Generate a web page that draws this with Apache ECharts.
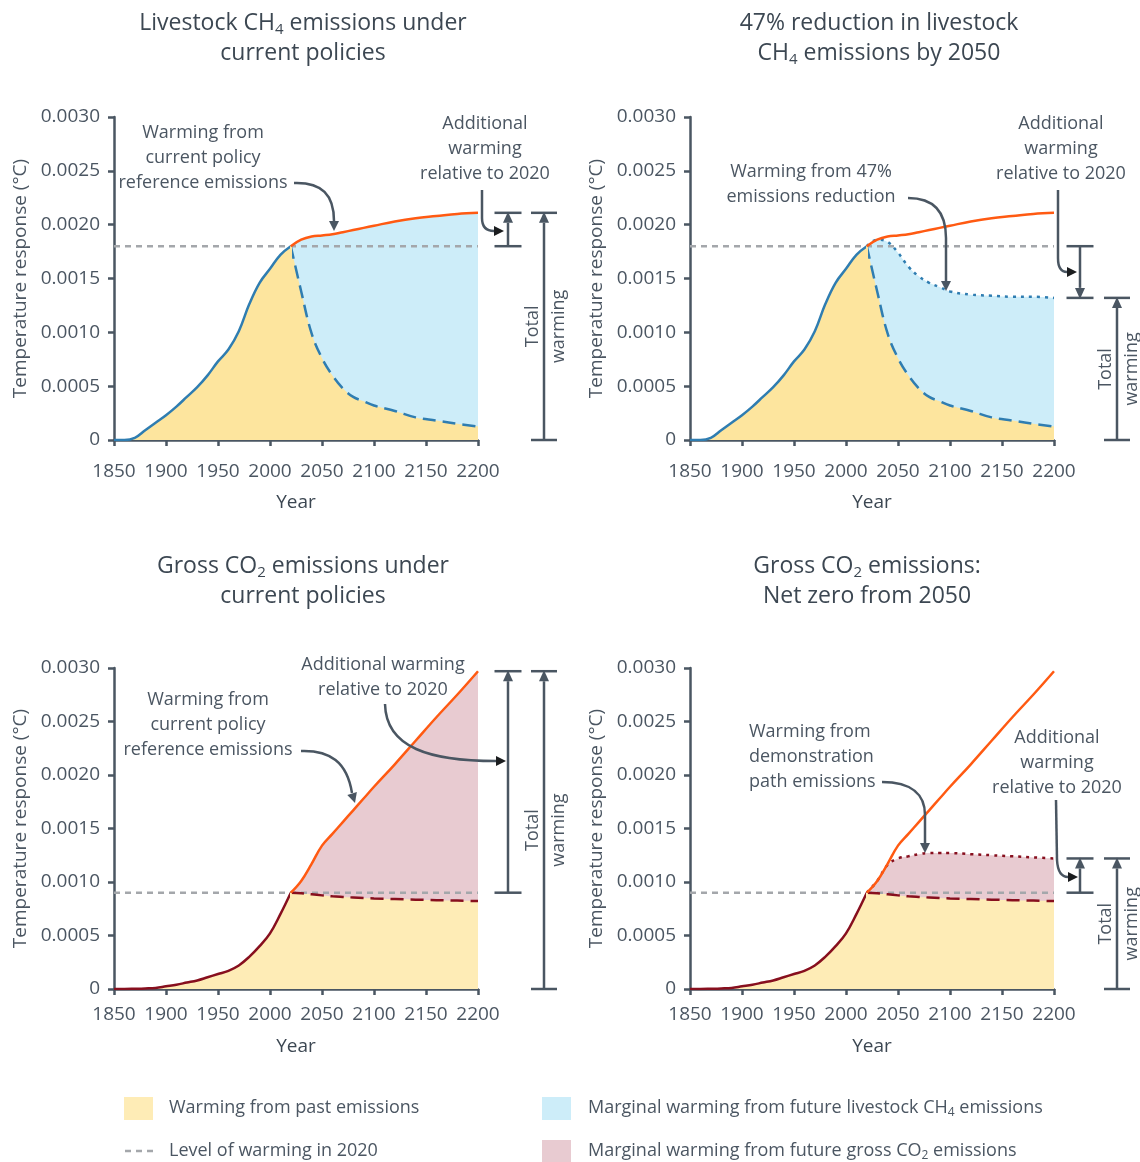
<!DOCTYPE html>
<html>
<head>
<meta charset="utf-8">
<script src="https://cdn.jsdelivr.net/npm/echarts@6/dist/echarts.min.js"></script>
<style>
  html, body { margin: 0; padding: 0; background: #ffffff; }
  #chart { width: 1140px; height: 1162px; }
</style>
</head>
<body>
<div id="chart"></div>
<script>
// ---- Sample years -------------------------------------------------------
const pastYears = [1850, 1860, 1870, 1880, 1890, 1900, 1910, 1920, 1930, 1940,
                   1950, 1960, 1970, 1980, 1990, 2000, 2010, 2020];
const futureYears = [2020, 2030, 2040, 2050, 2060, 2070, 2080, 2090, 2100,
                     2120, 2140, 2160, 2180, 2200];

// ---- Livestock CH4 temperature response (°C) -----------------------------
const ch4Past = [0, 0, 0.00002, 0.00009, 0.00016, 0.00023, 0.00031, 0.0004, 0.00049, 0.0006,
                 0.00073, 0.00084, 0.00101, 0.00126, 0.00146, 0.00159, 0.00172, 0.0018];
const ch4PastDecay = [0.0018, 0.00138, 0.00099, 0.00076, 0.0006, 0.00048, 0.0004, 0.00036, 0.00032,
                      0.00027, 0.00021, 0.00018, 0.00015, 0.000125];
const ch4CurrentPolicy = [0.0018, 0.00186, 0.00189, 0.0019, 0.00191, 0.00193, 0.00195, 0.00197, 0.00199,
                          0.00203, 0.00206, 0.00208, 0.0021, 0.00211];
const ch4Reduction47 = [0.0018, 0.00186, 0.00184, 0.00174, 0.00161, 0.00152, 0.00146, 0.00142, 0.00138,
                        0.00135, 0.00134, 0.00133, 0.00133, 0.00132];

// ---- Gross CO2 temperature response (°C) ---------------------------------
const co2Past = [0, 0, 0.000002, 0.000005, 0.00001, 0.000025, 0.00004, 0.00006, 0.00008, 0.00011,
                 0.00014, 0.00017, 0.00022, 0.0003, 0.0004, 0.00052, 0.0007, 0.0009];
const co2PastDecay = [0.0009, 0.000895, 0.000885, 0.000875, 0.000866, 0.00086, 0.000855, 0.00085, 0.000846,
                      0.00084, 0.000835, 0.00083, 0.000826, 0.000822];
const co2CurrentPolicy = [0.0009, 0.00101, 0.00117, 0.00134, 0.00145, 0.00156, 0.00167, 0.00178, 0.00189,
                          0.0021, 0.00232, 0.00254, 0.00275, 0.00297];
const co2NetZero = [0.0009, 0.00101, 0.00116, 0.00122, 0.00124, 0.00126, 0.00127, 0.00127, 0.00127,
                    0.00126, 0.00125, 0.00124, 0.00123, 0.00122];

// ---- Axis ticks ----------------------------------------------------------
const yearTicks = { min: 1850, max: 2200, step: 50 };
const tempTicks = { min: 0, max: 0.003, step: 0.0005 };

// ---- Styling -------------------------------------------------------------
const FONT = '"Open Sans", "Noto Sans", sans-serif';
const TEXT = '#4b5662';
const TITLE = '#3c4752';
const AXIS = '#4a5662';
const ARROW = '#4a5662';
const BLACK = '#1b1d1f';
const C = {
  orange: '#ff5a12', blueLine: '#2f7db1', redLine: '#870f1e', level: '#a4a7ab',
  yellowCH4: '#fde59e', yellowCO2: '#feecb6', blueFill: '#cdedf9', pinkFill: '#e8cbd1'
};

const pairs = (xs, ys) => xs.map((x, i) => [x, ys[i]]);
const last = a => a[a.length - 1];

const panels = [
  { grid: { left: 114, top: 117, width: 364, height: 323 }, past: ch4Past, decay: ch4PastDecay,
    policy: ch4CurrentPolicy, scenario: null, pastLine: C.blueLine, pastFill: C.yellowCH4,
    futureFill: C.blueFill, bracketX: [30, 66] },
  { grid: { left: 690, top: 117, width: 364, height: 323 }, past: ch4Past, decay: ch4PastDecay,
    policy: ch4CurrentPolicy, scenario: ch4Reduction47, pastLine: C.blueLine, pastFill: C.yellowCH4,
    futureFill: C.blueFill, bracketX: [26, 63] },
  { grid: { left: 114, top: 668, width: 364, height: 321 }, past: co2Past, decay: co2PastDecay,
    policy: co2CurrentPolicy, scenario: null, pastLine: C.redLine, pastFill: C.yellowCO2,
    futureFill: C.pinkFill, bracketX: [30, 66] },
  { grid: { left: 690, top: 668, width: 364, height: 321 }, past: co2Past, decay: co2PastDecay,
    policy: co2CurrentPolicy, scenario: co2NetZero, pastLine: C.redLine, pastFill: C.yellowCO2,
    futureFill: C.pinkFill, bracketX: [26, 63] }
];

const grids = [], xAxes = [], yAxes = [], series = [];
panels.forEach((p, i) => {
  grids.push(Object.assign({ containLabel: false }, p.grid));
  const top = i < 2;
  xAxes.push({
    type: 'value', gridIndex: i, min: yearTicks.min, max: yearTicks.max, interval: yearTicks.step,
    name: 'Year', nameLocation: 'middle', nameGap: top ? 53 : 48,
    nameTextStyle: { fontFamily: FONT, fontSize: 19, color: TITLE, fontWeight: 500 },
    axisLine: { show: true, onZero: false, lineStyle: { color: AXIS, width: 2.5 } },
    axisTick: { show: true, length: 6, lineStyle: { color: AXIS, width: 2.5 } },
    axisLabel: { fontFamily: FONT, fontSize: 19, color: TEXT, margin: top ? 22 : 16,
      formatter: v => String(v) },
    splitLine: { show: false }
  });
  yAxes.push({
    type: 'value', gridIndex: i, min: tempTicks.min, max: tempTicks.max, interval: tempTicks.step,
    name: 'Temperature response (°C)', nameLocation: 'middle', nameGap: 84, nameRotate: 90,
    nameTextStyle: { fontFamily: FONT, fontSize: 19, color: TEXT },
    axisLine: { show: true, lineStyle: { color: AXIS, width: 2.5 } },
    axisTick: { show: true, length: 6, lineStyle: { color: AXIS, width: 2.5 } },
    axisLabel: { fontFamily: FONT, fontSize: 19, color: TEXT, margin: 14,
      formatter: v => (v === 0 ? '0' : v.toFixed(4)) },
    splitLine: { show: false }
  });

  const base = { type: 'line', xAxisIndex: i, yAxisIndex: i, showSymbol: false, symbol: 'none',
                 smooth: 0.4, silent: true, animation: false };
  const upper = p.scenario || p.policy;
  const level = last(p.past);
  const noLine = { width: 0, opacity: 0 };

  // Marginal warming band: filled under the future path, later covered by past-emission fill
  series.push(Object.assign({}, base, { z: 1, data: pairs(futureYears, upper),
    lineStyle: noLine, areaStyle: { color: p.futureFill, opacity: 1 } }));
  // Warming from past emissions (the vertical mark closes the join at 2020)
  series.push(Object.assign({}, base, { z: 2, data: pairs(pastYears, p.past),
    lineStyle: noLine, areaStyle: { color: p.pastFill, opacity: 1 },
    markLine: { silent: true, symbol: 'none', animation: false, label: { show: false },
      lineStyle: { color: p.pastFill, width: 2, type: 'solid' },
      data: [[{ coord: [last(pastYears), 0] }, { coord: [last(pastYears), level] }]] } }));
  series.push(Object.assign({}, base, { z: 2, data: pairs(futureYears, p.decay),
    lineStyle: noLine, areaStyle: { color: p.pastFill, opacity: 1 } }));
  // Level of warming in 2020
  series.push(Object.assign({}, base, { z: 3, smooth: false,
    data: [[yearTicks.min, level], [yearTicks.max, level]],
    lineStyle: { color: C.level, width: 2.5, type: [6, 5] } }));
  // Curves
  series.push(Object.assign({}, base, { z: 4, data: pairs(pastYears, p.past),
    lineStyle: { color: p.pastLine, width: 2.5 } }));
  series.push(Object.assign({}, base, { z: 4, data: pairs(futureYears, p.decay),
    lineStyle: { color: p.pastLine, width: 2.5, type: [13, 7] } }));
  if (p.scenario) {
    series.push(Object.assign({}, base, { z: 4, data: pairs(futureYears, p.scenario),
      lineStyle: { color: p.pastLine, width: 2.5, type: [3, 5] } }));
  }
  series.push(Object.assign({}, base, { z: 5, data: pairs(futureYears, p.policy),
    lineStyle: { color: C.orange, width: 2.5 } }));
});

const chart = echarts.init(document.getElementById('chart'), null, { renderer: 'canvas' });
chart.setOption({
  backgroundColor: '#ffffff',
  animation: false,
  grid: grids, xAxis: xAxes, yAxis: yAxes, series: series
});

// ---- Annotations ---------------------------------------------------------
function textEl(text, x, y, align, size) {
  return {
    type: 'text', x: x, y: y, silent: true, z: 20,
    style: { text: text, font: size + 'px ' + FONT, fill: TEXT,
      align: align, verticalAlign: 'top', textAlign: align, textVerticalAlign: 'top', lineHeight: 25 }
  };
}

function richTitle(lines, cx, y) {
  const txt = lines.map(l => l.map(t => (t[1] ? '{s|' : '{t|') + t[0] + '}').join('')).join('\n');
  return { type: 'text', x: cx, y: y, silent: true, z: 20,
    style: { text: txt, align: 'center', verticalAlign: 'top', textAlign: 'center', textVerticalAlign: 'top',
      rich: {
        t: { fontSize: 23, fontFamily: FONT, fontWeight: 500, fill: TITLE, color: TITLE, lineHeight: 30 },
        s: { fontSize: 15, fontFamily: FONT, fontWeight: 500, fill: TITLE, color: TITLE, lineHeight: 15,
             verticalAlign: 'bottom', padding: [0, 0, 1, 0] }
      } } };
}

function head(tip, angleDeg, color, len, half) {
  const a = angleDeg * Math.PI / 180, ux = Math.cos(a), uy = Math.sin(a);
  const bx = tip[0] - ux * len, by = tip[1] - uy * len;
  return { type: 'polygon', silent: true, z: 21,
    shape: { points: [tip, [bx - uy * half, by + ux * half], [bx + uy * half, by - ux * half]] },
    style: { fill: color } };
}

// segs: ['L', x1, y1, x2, y2] | ['Q', x1, y1, cx, cy, x2, y2] | ['C', x1, y1, c1x, c1y, c2x, c2y, x2, y2]
function arrow(segs, tip, angleDeg, headColor) {
  const st = { stroke: ARROW, lineWidth: 2.5, fill: null };
  const out = segs.map(s => {
    if (s[0] === 'L') {
      return { type: 'line', silent: true, z: 21, shape: { x1: s[1], y1: s[2], x2: s[3], y2: s[4] }, style: st };
    }
    if (s[0] === 'Q') {
      return { type: 'bezierCurve', silent: true, z: 21,
        shape: { x1: s[1], y1: s[2], cpx1: s[3], cpy1: s[4], x2: s[5], y2: s[6] }, style: st };
    }
    return { type: 'bezierCurve', silent: true, z: 21,
      shape: { x1: s[1], y1: s[2], cpx1: s[3], cpy1: s[4], cpx2: s[5], cpy2: s[6], x2: s[7], y2: s[8] }, style: st };
  });
  out.push(head(tip, angleDeg, headColor, 10, 5));
  return out;
}

function bracket(gi, x, from, to, capHalf) {
  const yFrom = chart.convertToPixel({ gridIndex: gi }, [yearTicks.max, from])[1];
  const yTo = chart.convertToPixel({ gridIndex: gi }, [yearTicks.max, to])[1];
  const dir = yTo < yFrom ? -1 : 1;
  const hl = 10, hw = 5;
  const st = { stroke: AXIS, lineWidth: 2.5 };
  return [
    { type: 'line', silent: true, z: 21, shape: { x1: x - capHalf, y1: yFrom, x2: x + capHalf, y2: yFrom }, style: st },
    { type: 'line', silent: true, z: 21, shape: { x1: x - capHalf, y1: yTo, x2: x + capHalf, y2: yTo }, style: st },
    { type: 'line', silent: true, z: 21, shape: { x1: x, y1: yFrom, x2: x, y2: yTo - dir * hl }, style: st },
    { type: 'polygon', silent: true, z: 21,
      shape: { points: [[x, yTo + dir * 1], [x - hw, yTo - dir * hl], [x + hw, yTo - dir * hl]] },
      style: { fill: AXIS } }
  ];
}

const g = [];
// Titles
g.push(richTitle([[['Livestock CH'], ['4', 1], [' emissions under']], [['current policies']]], 303, 8));
g.push(richTitle([[['47% reduction in livestock']], [['CH'], ['4', 1], [' emissions by 2050']]], 879, 8));
g.push(richTitle([[['Gross CO'], ['2', 1], [' emissions under']], [['current policies']]], 303, 551));
g.push(richTitle([[['Gross CO'], ['2', 1], [' emissions:']], [['Net zero from 2050']]], 867, 551));

// Brackets: additional warming relative to 2020, and total warming
panels.forEach((p, i) => {
  const right = chart.convertToPixel({ gridIndex: i }, [yearTicks.max, 0])[0];
  const endVal = last(p.scenario || p.policy);
  const level = last(p.past);
  const xa = right + p.bracketX[0], xt = right + p.bracketX[1];
  bracket(i, xa, level, endVal, 13.5).forEach(e => g.push(e));
  bracket(i, xt, 0, endVal, 13).forEach(e => g.push(e));
  const yMid = (chart.convertToPixel({ gridIndex: i }, [yearTicks.max, 0])[1] +
                chart.convertToPixel({ gridIndex: i }, [yearTicks.max, endVal])[1]) / 2;
  g.push({ type: 'text', x: xt - 11.5, y: yMid, rotation: Math.PI / 2, silent: true, z: 20,
    style: { text: 'Total', font: '18px ' + FONT, fill: TEXT, align: 'center', verticalAlign: 'middle',
      textAlign: 'center', textVerticalAlign: 'middle' } });
  g.push({ type: 'text', x: xt + 15, y: yMid, rotation: Math.PI / 2, silent: true, z: 20,
    style: { text: 'warming', font: '18px ' + FONT, fill: TEXT, align: 'center', verticalAlign: 'middle',
      textAlign: 'center', textVerticalAlign: 'middle' } });
});

// Callout labels
g.push(textEl('Warming from\ncurrent policy\nreference emissions', 203, 120, 'center', 18));
g.push(textEl('Additional\nwarming\nrelative to 2020', 485, 111, 'center', 18));
g.push(textEl('Warming from 47%\nemissions reduction', 811, 159, 'center', 18));
g.push(textEl('Additional\nwarming\nrelative to 2020', 1061, 111, 'center', 18));
g.push(textEl('Warming from\ncurrent policy\nreference emissions', 208, 687, 'center', 18));
g.push(textEl('Additional warming\nrelative to 2020', 383, 652, 'center', 18));
g.push(textEl('Warming from\ndemonstration\npath emissions', 749, 719, 'left', 18));
g.push(textEl('Additional\nwarming\nrelative to 2020', 1057, 725, 'center', 18));

// Callout arrows
[
  arrow([['C', 294, 183, 322, 182, 334, 195, 334, 221]], [334, 231], 90, ARROW),
  arrow([['L', 482, 190, 482, 218], ['Q', 482, 218, 482, 231, 494, 231]], [504, 231], 0, BLACK),
  arrow([['C', 908, 198, 936, 198, 946, 214, 946, 238], ['L', 946, 238, 946, 281]], [946, 291], 90, ARROW),
  arrow([['L', 1058, 190, 1058, 258], ['Q', 1058, 258, 1058, 272, 1067, 272]], [1077, 272], 0, BLACK),
  arrow([['C', 301, 751, 330, 750, 347, 762, 352, 793]], [355, 803], 73, ARROW),
  arrow([['C', 385, 704, 386, 748, 430, 761, 496, 761]], [506, 761], 0, BLACK),
  arrow([['C', 882, 782, 912, 782, 925, 795, 925, 815], ['L', 925, 815, 925, 843]], [925, 853], 90, ARROW),
  arrow([['L', 1056, 800, 1057, 860], ['Q', 1057, 860, 1058, 877, 1068, 877]], [1078, 877], 0, BLACK)
].forEach(a => a.forEach(e => g.push(e)));

// Legend
const legendRich = {
  t: { fontSize: 18, fontFamily: FONT, fill: TEXT, color: TEXT, lineHeight: 24 },
  s: { fontSize: 12, fontFamily: FONT, fill: TEXT, color: TEXT, lineHeight: 12, verticalAlign: 'bottom', padding: [0, 0, 1, 0] }
};
function legendText(tokens, x, y) {
  const txt = tokens.map(t => (t[1] ? '{s|' : '{t|') + t[0] + '}').join('');
  return { type: 'text', x: x, y: y, silent: true, z: 20,
    style: { text: txt, rich: legendRich, align: 'left', verticalAlign: 'middle',
      textAlign: 'left', textVerticalAlign: 'middle' } };
}
g.push({ type: 'rect', silent: true, shape: { x: 124, y: 1097, width: 29, height: 23 }, style: { fill: C.yellowCO2 } });
g.push(legendText([['Warming from past emissions']], 169, 1108));
g.push({ type: 'line', silent: true, shape: { x1: 125, y1: 1151, x2: 154, y2: 1151 },
  style: { stroke: C.level, lineWidth: 2.5, lineDash: [6, 5] } });
g.push(legendText([['Level of warming in 2020']], 169, 1151));
g.push({ type: 'rect', silent: true, shape: { x: 542, y: 1097, width: 29, height: 23 }, style: { fill: C.blueFill } });
g.push(legendText([['Marginal warming from future livestock CH'], ['4', 1], [' emissions']], 588, 1108));
g.push({ type: 'rect', silent: true, shape: { x: 542, y: 1140, width: 29, height: 23 }, style: { fill: C.pinkFill } });
g.push(legendText([['Marginal warming from future gross CO'], ['2', 1], [' emissions']], 588, 1151));

chart.setOption({ graphic: { elements: g } });
</script>
</body>
</html>
